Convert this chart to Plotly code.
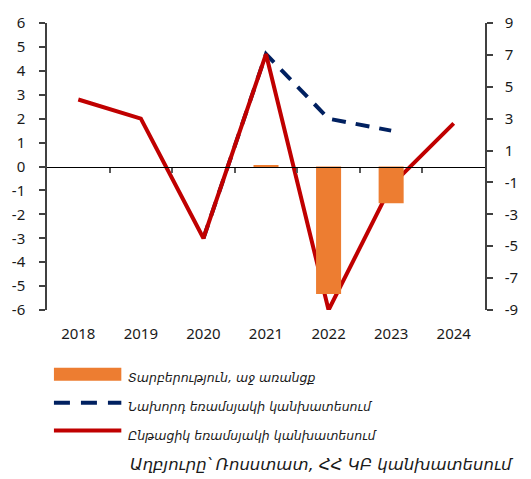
import plotly.graph_objects as go

# ---- data ----
years = ["2018", "2019", "2020", "2021", "2022", "2023", "2024"]
difference = [None, None, None, 0.06, -8.0, -2.3, None]         # right axis
previous_forecast = [None, None, -3.0, 4.7, 2.0, 1.5, None]     # left axis
current_forecast = [2.8, 2.0, -3.0, 4.7, -6.0, -0.8, 1.8]       # left axis
left_ticks = [6, 5, 4, 3, 2, 1, 0, -1, -2, -3, -4, -5, -6]
left_tick_labels = ["6", "5", "4", "3", "2", "1", "0", "-1", "-2", "-3", "-4", "-5", "-6"]
right_ticks = [9, 7, 5, 3, 1, -1, -3, -5, -7, -9]
right_tick_labels = ["9", "7", "5", "3", "1", "-1", "-3", "-5", "-7", "-9"]

legend_labels = [
    "Տարբերություն, աջ առանցք",
    "Նախորդ եռամսյակի կանխատեսում",
    "Ընթացիկ եռամսյակի կանխատեսում",
]
source_text = "Աղբյուրը՝ Ռոսստատ, ՀՀ ԿԲ կանխատեսում"

ORANGE = "#ED7D31"
NAVY = "#002060"
RED = "#C00000"
AXIS = "#404040"

W, H = 531, 479
ML, MR, MT, MB = 43, 46, 22, 169


def px(x):
    return (x - ML) / (W - ML - MR)


def py(y):
    return (H - MB - y) / (H - MT - MB)


fig = go.Figure()

fig.add_trace(go.Bar(
    x=years, y=difference, yaxis="y2", marker=dict(color=ORANGE, line=dict(width=0)),
    width=0.4, showlegend=False, name=legend_labels[0],
))
fig.add_trace(go.Scatter(
    x=years, y=previous_forecast, mode="lines", yaxis="y",
    line=dict(color=NAVY, width=4, dash="14px,10px"), showlegend=False,
    name=legend_labels[1],
))
fig.add_trace(go.Scatter(
    x=years, y=current_forecast, mode="lines", yaxis="y",
    line=dict(color=RED, width=4), showlegend=False, name=legend_labels[2],
))
# dummy trace for the zero-line axis with boundary ticks
fig.add_trace(go.Scatter(x=[None], y=[None], xaxis="x2", yaxis="y",
                         showlegend=False, hoverinfo="skip"))

tickfont = dict(family="Noto Sans", size=15, color="#1a1a1a")

fig.update_layout(
    width=W, height=H,
    margin=dict(l=ML, r=MR, t=MT, b=MB),
    paper_bgcolor="white", plot_bgcolor="white",
    bargap=0.6,
    xaxis=dict(
        type="category", categoryorder="array", categoryarray=years,
        range=[-0.5, 6.5], showline=False, showgrid=False, zeroline=False,
        ticks="outside", ticklen=10, tickcolor="rgba(0,0,0,0)",
        tickfont=tickfont,
    ),
    xaxis2=dict(
        overlaying="x", anchor="free", position=0.5, range=[-0.5, 6.5],
        tickvals=[0.5, 1.5, 2.5, 3.5, 4.5, 5.5], ticks="outside", ticklen=5,
        tickwidth=2, tickcolor="#595959", showticklabels=False,
        showline=True, linecolor="black", linewidth=1, showgrid=False,
        zeroline=False,
    ),
    yaxis=dict(
        range=[-6, 6], tickvals=left_ticks, ticktext=left_tick_labels,
        showline=True, linecolor=AXIS,
        linewidth=1.5, ticks="outside", ticklen=6, tickcolor=AXIS, tickwidth=1.5,
        showgrid=False, zeroline=False, tickfont=tickfont, ticklabelstandoff=11,
    ),
    yaxis2=dict(
        overlaying="y", side="right", range=[-9, 9], tickvals=right_ticks,
        ticktext=right_tick_labels,
        showline=True, linecolor=AXIS, linewidth=1.5, ticks="outside",
        ticklen=6, tickcolor=AXIS, tickwidth=1.5, showgrid=False,
        zeroline=False, tickfont=tickfont, ticklabelstandoff=9,
    ),
    showlegend=False,
)

# custom legend (below the plot)
shapes = [
    dict(type="rect", xref="paper", yref="paper", x0=px(50), x1=px(118),
         y0=py(381), y1=py(368), fillcolor=ORANGE, line=dict(width=0)),
    dict(type="line", xref="paper", yref="paper", x0=px(50), x1=px(118),
         y0=py(403), y1=py(403), line=dict(color=NAVY, width=4, dash="16px,11px")),
    dict(type="line", xref="paper", yref="paper", x0=px(50), x1=px(118),
         y0=py(431), y1=py(431), line=dict(color=RED, width=4)),
]
fig.update_layout(shapes=shapes)

legend_font = dict(family="DejaVu Sans", size=12.5, color="#1a1a1a", style="italic")
for label, yc in zip(legend_labels, [378, 407, 436]):
    fig.add_annotation(text=label, xref="paper", yref="paper", x=px(123), y=py(yc),
                       xanchor="left", yanchor="middle", showarrow=False,
                       font=legend_font)

fig.add_annotation(text=source_text, xref="paper", yref="paper", x=px(516), y=py(465),
                   xanchor="right", yanchor="middle", showarrow=False,
                   font=dict(family="DejaVu Sans", size=16.5, color="#1a1a1a",
                             style="italic"))

fig.write_html("out.html", config={"displayModeBar": False},
               post_script="document.body.style.margin='0px';document.body.style.padding='0px';")
